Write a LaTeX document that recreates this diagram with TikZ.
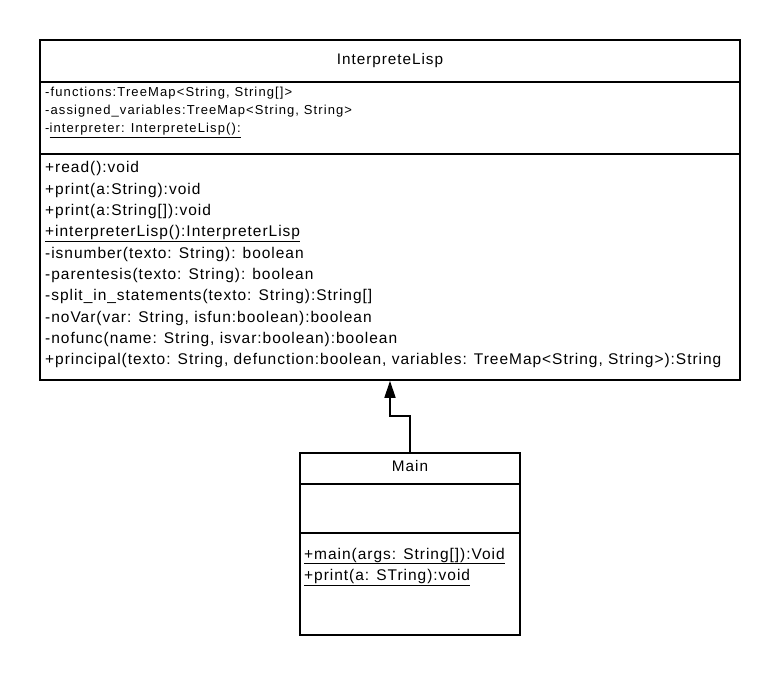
\documentclass[tikz,border=0pt]{standalone}
\usepackage{fontspec}
\setmainfont{Liberation Sans}
\newfontfamily\mfont[LetterSpace=6.3]{Liberation Sans}
\newfontfamily\afont[LetterSpace=8.6]{Liberation Sans}
\usetikzlibrary{arrows.meta}
\begin{document}
\begin{tikzpicture}[x=1pt,y=-1pt,
  classbox/.style={draw=black, line width=1.6pt, inner sep=0pt, fill=white},
  sepline/.style={draw=black, line width=1.4pt},
  mtext/.style={anchor=base west, inner sep=0pt, font=\mfont\fontsize{15.5}{18}\selectfont},
  atext/.style={anchor=base west, inner sep=0pt, font=\afont\fontsize{13}{15}\selectfont},
  ttext/.style={anchor=base, inner sep=0pt, font=\mfont\fontsize{15.3}{18}\selectfont},
  inherit/.style={line width=1.6pt, -{Triangle[length=17pt,width=11pt]}}
]
\useasboundingbox (0,0) rectangle (780,676);
% InterpreteLisp class
\node[classbox, minimum width=700pt, minimum height=340pt] (interp) at (390,210) {};
\coordinate (ih1) at (40,82); \coordinate (ih2) at (740,82);
\coordinate (is1) at (40,154); \coordinate (is2) at (740,154);
\draw[sepline] (ih1) -- (ih2);
\draw[sepline] (is1) -- (is2);
\node[ttext] (ititle) at (390,65) {InterpreteLisp};
\node[atext] (a1) at (45,96.3) {-functions:TreeMap<String, String[]>};
\node[atext] (a2) at (45,114.6) {-assigned\_variables:TreeMap<String, String>};
\node[atext] (a3) at (45,132.9) {-\underline{interpreter: InterpreteLisp():}};
\node[mtext] (m1) at (45,173) {+read():void};
\node[mtext] (m2) at (45,194.3) {+print(a:String):void};
\node[mtext] (m3) at (45,215.7) {+print(a:String[]):void};
\node[mtext] (m4) at (45,237) {\underline{+interpreterLisp():InterpreterLisp}};
\node[mtext] (m5) at (45,258.3) {-isnumber(texto: String): boolean};
\node[mtext] (m6) at (45,279.7) {-parentesis(texto: String): boolean};
\node[mtext] (m7) at (45,301) {-split\_in\_statements(texto: String):String[]};
\node[mtext] (m8) at (45,322.3) {-noVar(var: String, isfun:boolean):boolean};
\node[mtext] (m9) at (45,343.7) {-nofunc(name: String, isvar:boolean):boolean};
\node[mtext] (m10) at (45,365) {+principal(texto: String, defunction:boolean, variables: TreeMap<String, String>):String};
% Main class
\node[classbox, minimum width=220pt, minimum height=182pt] (main) at (410,544) {};
\coordinate (mh1) at (300,484); \coordinate (mh2) at (520,484);
\coordinate (ms1) at (300,533); \coordinate (ms2) at (520,533);
\draw[sepline] (mh1) -- (mh2);
\draw[sepline] (ms1) -- (ms2);
\node[ttext] (mtitle) at (410,472) {Main};
\node[mtext] (mm1) at (304,559) {\underline{+main(args: String[]):Void}};
\node[mtext] (mm2) at (304,580.5) {\underline{+print(a: STring):void}};
% generalization
\draw[inherit] (main.north) -- ++(0,-36) -| (interp.south);
\end{tikzpicture}
\end{document}
